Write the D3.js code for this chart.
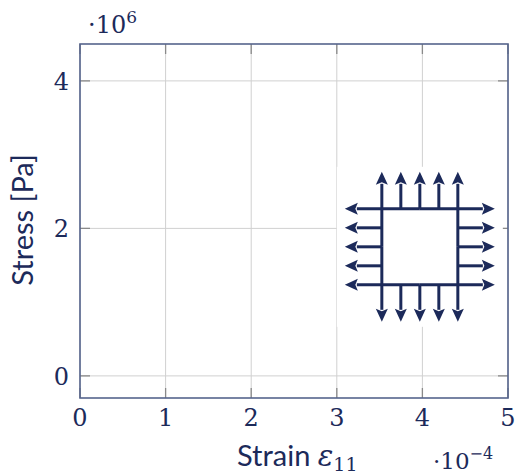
<!DOCTYPE html>
<html>
<head>
<meta charset="utf-8">
<script src="https://cdn.jsdelivr.net/npm/d3@7"></script>
<style>
  html, body { margin: 0; padding: 0; background: #fff; }
  svg { display: block; }
</style>
</head>
<body>
<svg id="chart" width="516" height="475"></svg>
<script>
// Axis setup (strain in 1e-4, stress in 1e6 Pa)
const xTicks = [0, 1, 2, 3, 4, 5];
const yTicks = [0, 2, 4];
const xDomain = [0, 5];
const yDomain = [-0.3, 4.5];
const xLabel = "Strain";
const yLabel = "Stress [Pa]";

// Biaxial load sketch: centre in data units, arrows per side
const sketchCenter = [3.97, 1.75];
const arrowsPerSide = [0, 1, 2, 3, 4];

const navy = "#1c2a5a";
const frameColor = "#56648c";
const gridColor = "#d0d0d0";
const tickColor = "#8a8a8a";

const margin = { left: 80, right: 8, top: 44, bottom: 77 };
const W = 516, H = 475;

const svg = d3.select("#chart");
const x = d3.scaleLinear().domain(xDomain).range([margin.left, W - margin.right]);
const y = d3.scaleLinear().domain(yDomain).range([H - margin.bottom, margin.top]);

const plot = svg.append("g");

// grid
plot.append("g").selectAll("line.vg").data(xTicks).join("line")
  .attr("x1", d => x(d)).attr("x2", d => x(d))
  .attr("y1", y(yDomain[0])).attr("y2", y(yDomain[1]))
  .attr("stroke", gridColor).attr("stroke-width", 1);
plot.append("g").selectAll("line.hg").data(yTicks).join("line")
  .attr("y1", d => y(d)).attr("y2", d => y(d))
  .attr("x1", x(xDomain[0])).attr("x2", x(xDomain[1]))
  .attr("stroke", gridColor).attr("stroke-width", 1);

// inner ticks on all four sides
const tl = 10;
const tk = plot.append("g").attr("stroke", tickColor).attr("stroke-width", 1.3);
xTicks.forEach(t => {
  tk.append("line").attr("x1", x(t)).attr("x2", x(t)).attr("y1", y(yDomain[0])).attr("y2", y(yDomain[0]) - tl);
  tk.append("line").attr("x1", x(t)).attr("x2", x(t)).attr("y1", y(yDomain[1])).attr("y2", y(yDomain[1]) + tl);
});
yTicks.forEach(t => {
  tk.append("line").attr("y1", y(t)).attr("y2", y(t)).attr("x1", x(xDomain[0])).attr("x2", x(xDomain[0]) + tl);
  tk.append("line").attr("y1", y(t)).attr("y2", y(t)).attr("x1", x(xDomain[1])).attr("x2", x(xDomain[1]) - tl);
});

// load sketch
const half = 38, arrowLen = 37, headL = 13, headW = 12;
const cx = x(sketchCenter[0]), cy = y(sketchCenter[1]);
const step = (2 * half) / (arrowsPerSide.length - 1);
const sk = plot.append("g");
sk.append("rect")
  .attr("x", cx - half - arrowLen - 8).attr("y", cy - half - arrowLen - 5)
  .attr("width", 2 * (half + arrowLen + 8)).attr("height", 2 * (half + arrowLen + 5))
  .attr("fill", "#fff");

function arrow(x1, y1, x2, y2) {
  const dx = x2 - x1, dy = y2 - y1, L = Math.hypot(dx, dy);
  const ux = dx / L, uy = dy / L;
  const bx = x2 - ux * headL, by = y2 - uy * headL;
  sk.append("line").attr("x1", x1).attr("y1", y1).attr("x2", bx + ux * 1).attr("y2", by + uy * 1)
    .attr("stroke", navy).attr("stroke-width", 3);
  sk.append("path")
    .attr("d", `M${x2},${y2}L${bx - uy * headW / 2},${by + ux * headW / 2}L${bx + ux * 2.5},${by + uy * 2.5}L${bx + uy * headW / 2},${by - ux * headW / 2}Z`)
    .attr("fill", navy);
}

arrowsPerSide.forEach(i => {
  const px = cx - half + i * step;
  const py = cy - half + i * step;
  const edge = (i === 0 || i === arrowsPerSide.length - 1);
  // vertical arrows (up and down)
  arrow(px, edge ? cy : cy - half, px, cy - half - arrowLen);
  arrow(px, edge ? cy : cy + half, px, cy + half + arrowLen);
  // horizontal arrows (left and right)
  arrow(edge ? cx : cx - half, py, cx - half - arrowLen, py);
  arrow(edge ? cx : cx + half, py, cx + half + arrowLen, py);
});

// frame
plot.append("rect")
  .attr("x", x(xDomain[0])).attr("y", y(yDomain[1]))
  .attr("width", x(xDomain[1]) - x(xDomain[0])).attr("height", y(yDomain[0]) - y(yDomain[1]))
  .attr("fill", "none").attr("stroke", frameColor).attr("stroke-width", 1.6);

// tick labels
const serif = "'DejaVu Serif', serif";
const sans = "Lato, 'Open Sans', sans-serif";
svg.append("g").selectAll("text").data(xTicks).join("text")
  .attr("x", d => x(d)).attr("y", 426)
  .attr("text-anchor", "middle").attr("font-family", serif).attr("font-size", 24)
  .attr("fill", navy).text(d => d);
svg.append("g").selectAll("text").data(yTicks).join("text")
  .attr("x", 69).attr("y", d => y(d) + 9)
  .attr("text-anchor", "end").attr("font-family", serif).attr("font-size", 24)
  .attr("fill", navy).text(d => d);

// scale factors
const f6 = svg.append("text").attr("x", 88).attr("y", 33)
  .attr("font-family", serif).attr("font-size", 24).attr("fill", navy);
f6.append("tspan").text("·10");
f6.append("tspan").attr("dy", -10).attr("font-size", 17).text("6");

const f4 = svg.append("text").attr("x", 433).attr("y", 469)
  .attr("font-family", serif).attr("font-size", 23).attr("fill", navy);
f4.append("tspan").text("·10");
f4.append("tspan").attr("dy", -10).attr("font-size", 16).text("−4");

// axis titles
const xl = svg.append("text").attr("x", 237).attr("y", 466)
  .attr("font-family", sans).attr("font-size", 29).attr("fill", navy);
xl.append("tspan").text(xLabel + " ");
xl.append("tspan").attr("font-family", serif).attr("font-style", "italic").text("ε");
xl.append("tspan").attr("font-family", serif).attr("font-size", 19).attr("dy", 5).text("11");

svg.append("text")
  .attr("transform", `translate(33, ${(153 + 287) / 2}) rotate(-90)`)
  .attr("text-anchor", "middle").attr("font-family", sans).attr("font-size", 29)
  .attr("fill", navy).text(yLabel);
</script>
</body>
</html>
